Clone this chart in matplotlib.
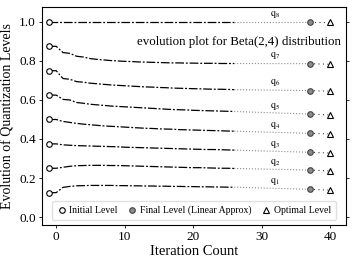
"""
Evolution of quantization levels for a Beta(2,4) source
"""

import matplotlib
matplotlib.use("Agg")
import matplotlib.pyplot as plt

plt.rcParams['font.family'] = ['Liberation Serif', 'DejaVu Serif']
plt.rcParams['mathtext.fontset'] = 'stix'

# iterations 0..26 (initial level is drawn at -1)
iters = list(range(0, 27))
initial_levels = [0.125, 0.25, 0.375, 0.5, 0.625, 0.75, 0.875, 1.0]
final_levels = [0.142, 0.241, 0.332, 0.429, 0.528, 0.648, 0.786, 1.0]
optimal_levels = [0.138, 0.236, 0.328, 0.426, 0.523, 0.645, 0.783, 1.0]

q1 = [0.125, 0.152, 0.157, 0.160, 0.161, 0.162, 0.162, 0.162, 0.162, 0.161,
      0.161, 0.160, 0.160, 0.159, 0.159, 0.158, 0.158, 0.157, 0.157, 0.156,
      0.156, 0.155, 0.155, 0.154, 0.154, 0.153, 0.153]
q2 = [0.250, 0.255, 0.260, 0.263, 0.264, 0.265, 0.265, 0.265, 0.264, 0.264,
      0.263, 0.262, 0.261, 0.260, 0.259, 0.258, 0.257, 0.256, 0.255, 0.254,
      0.253, 0.253, 0.252, 0.251, 0.250, 0.250, 0.249]
q3 = [0.375, 0.370, 0.368, 0.366, 0.365, 0.364, 0.363, 0.362, 0.361, 0.360,
      0.358, 0.357, 0.356, 0.355, 0.354, 0.353, 0.352, 0.351, 0.350, 0.349,
      0.348, 0.347, 0.346, 0.346, 0.345, 0.344, 0.343]
q4 = [0.500, 0.490, 0.485, 0.480, 0.476, 0.473, 0.470, 0.467, 0.465, 0.463,
      0.461, 0.459, 0.457, 0.455, 0.454, 0.452, 0.451, 0.450, 0.448, 0.447,
      0.446, 0.445, 0.444, 0.443, 0.442, 0.441, 0.440]
q5 = [0.625, 0.603, 0.600, 0.587, 0.583, 0.578, 0.575, 0.572, 0.569, 0.567,
      0.565, 0.563, 0.561, 0.559, 0.557, 0.555, 0.553, 0.551, 0.550, 0.549,
      0.547, 0.546, 0.545, 0.544, 0.543, 0.542, 0.541]
q6 = [0.750, 0.710, 0.706, 0.694, 0.691, 0.686, 0.683, 0.680, 0.677, 0.675,
      0.673, 0.671, 0.669, 0.667, 0.666, 0.664, 0.663, 0.661, 0.660, 0.659,
      0.658, 0.657, 0.656, 0.655, 0.655, 0.654, 0.653]
q7 = [0.875, 0.843, 0.839, 0.824, 0.820, 0.812, 0.808, 0.805, 0.802, 0.800,
      0.798, 0.797, 0.795, 0.794, 0.793, 0.792, 0.791, 0.790, 0.790, 0.789,
      0.789, 0.788, 0.788, 0.788, 0.787, 0.787, 0.787]
q8 = [1.0] * 27
curves = [q1, q2, q3, q4, q5, q6, q7, q8]

init_x = -1
final_x = 37
opt_x = 40
label_x = 32


def plot_levels(outfile):
    fig = plt.figure(figsize=(3.54, 2.66), dpi=100)
    ax = fig.add_axes([0.119, 0.154, 0.858, 0.820])

    for i, curve in enumerate(curves):
        xs = [init_x] + iters
        ys = [initial_levels[i]] + curve
        ax.plot(xs, ys, color='black', linestyle=(0, (7, 1.5, 1.5, 1.5)),
                lw=0.9)
        # linear approx extrapolation to final level
        ax.plot([iters[-1], final_x], [curve[-1], final_levels[i]],
                color='0.55', linestyle=':', lw=0.8)
        ax.plot([final_x, opt_x], [final_levels[i], optimal_levels[i]],
                color='0.25', linestyle=(0, (1, 3)), lw=0.8)
        ax.plot(init_x, initial_levels[i], 'o', mfc='white', mec='black',
                ms=4, mew=0.8, label='Initial Level' if i == 0 else None)
        ax.plot(final_x, final_levels[i], 'o', mfc='0.55', mec='0.25',
                ms=4, mew=0.8,
                label='Final Level (Linear Approx)' if i == 0 else None)
        ax.plot(opt_x, optimal_levels[i], '^', mfc='white', mec='black',
                ms=4, mew=0.8, label='Optimal Level' if i == 0 else None)
        ax.text(label_x, final_levels[i] + 0.012,
                r'$\mathrm{q}_{%d}$' % (i + 1),
                fontsize=7, ha='center', va='bottom')

    ax.text(41.6, 0.897, 'evolution plot for Beta(2,4) distribution',
            fontsize=9.3, ha='right', va='center')

    ax.set_xlim(-2.05, 42.3)
    ax.set_ylim(-0.041, 1.077)
    ax.set_xticks([0, 10, 20, 30, 40])
    ax.set_yticks([0.0, 0.2, 0.4, 0.6, 0.8, 1.0])
    ax.tick_params(labelsize=9.5, length=2.5, width=0.6, pad=2, right=True)
    for sp in ax.spines.values():
        sp.set_linewidth(0.8)
    ax.set_xlabel('Iteration Count', fontsize=10.5, labelpad=1)
    ax.set_ylabel('Evolution of Quantization Levels', fontsize=10, labelpad=3)

    ax.legend(loc='lower center', ncol=3, fontsize=7, frameon=True,
              handletextpad=0.3, columnspacing=1.0, handlelength=1.0,
              borderpad=0.5, edgecolor='0.85')

    fig.savefig(outfile, dpi=100)


if __name__ == "__main__":
    plot_levels('out.png')
